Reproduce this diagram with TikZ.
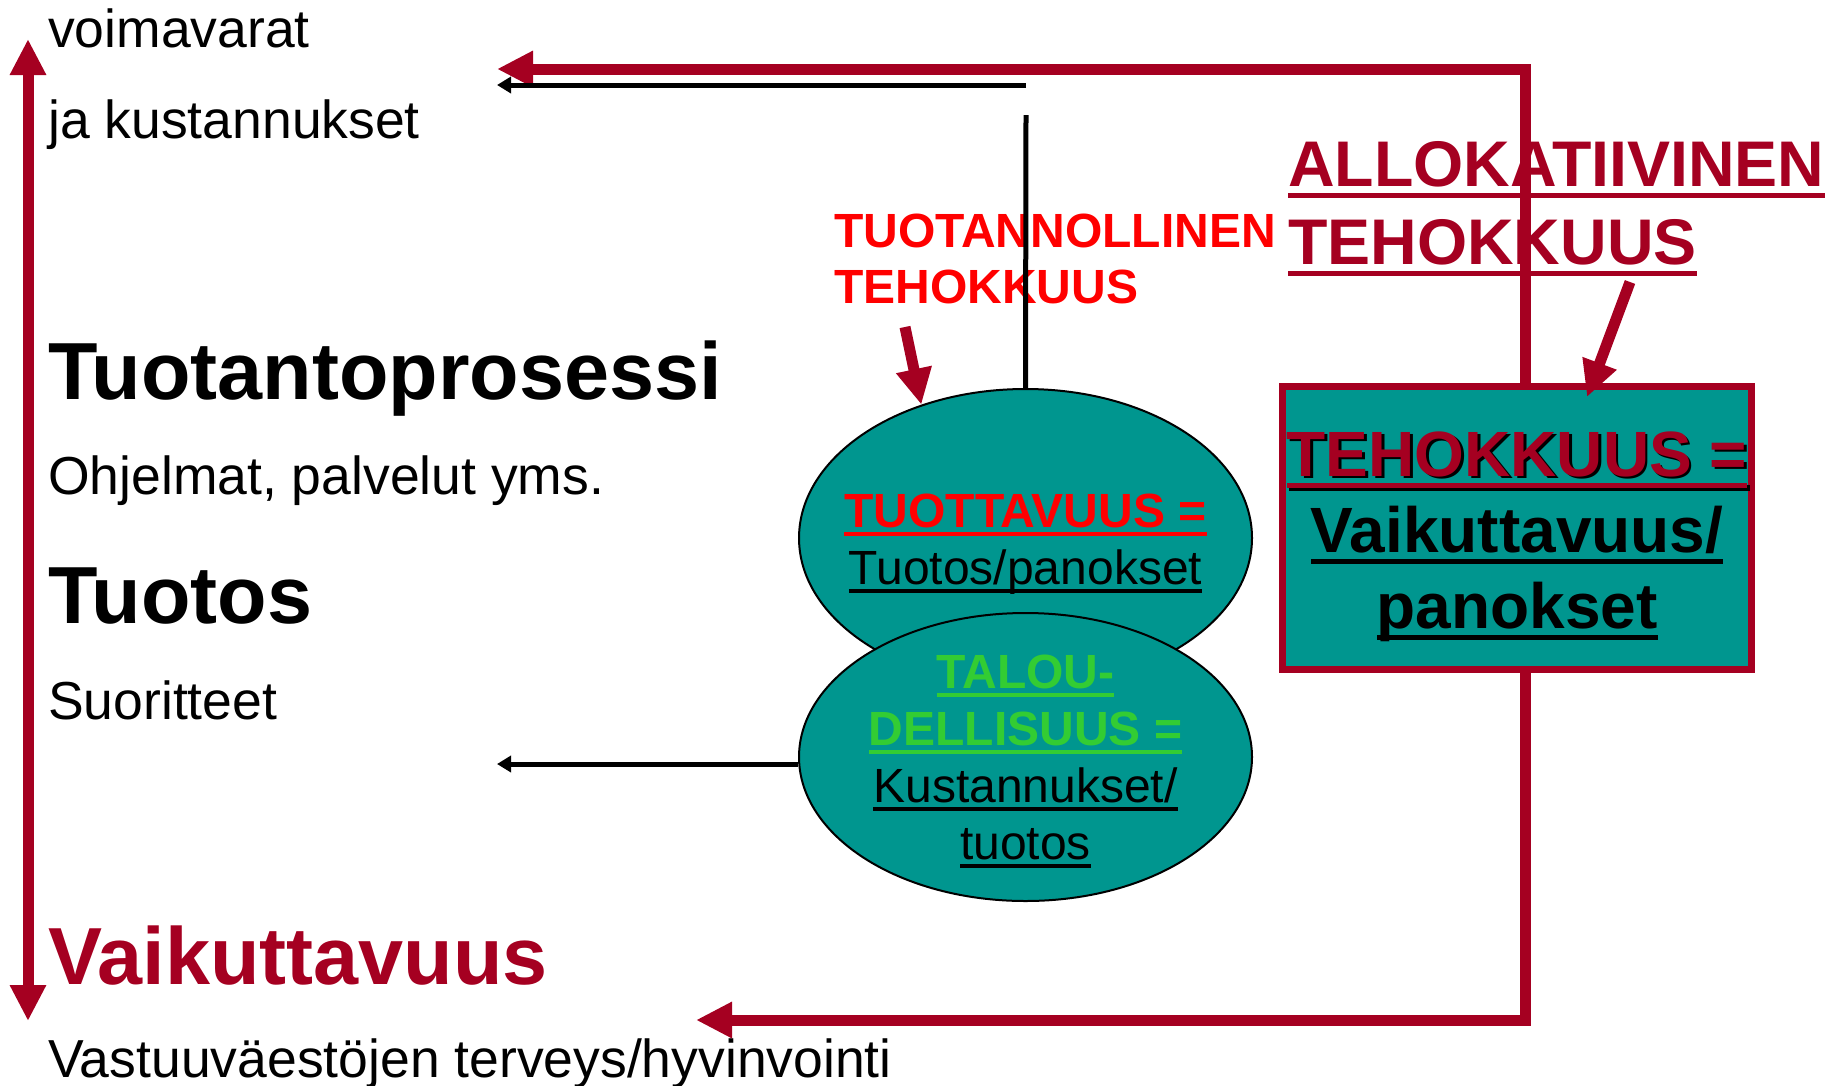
\documentclass[tikz,border=0pt]{standalone}
\usepackage{fontspec}
\setmainfont{Liberation Sans}
\usepackage{tikz}
\usetikzlibrary{arrows.meta,shapes.geometric}
\definecolor{darkred}{HTML}{A50021}
\definecolor{tealfill}{HTML}{00968F}
\definecolor{brightgreen}{HTML}{33CC33}
\newsavebox{\undlbox}
\newcommand{\undl}[1]{\sbox{\undlbox}{#1}\rlap{\usebox{\undlbox}}\rule[-0.19em]{\wd\undlbox}{0.085em}}
\newcommand{\shadowed}[1]{\rlap{\kern2.5pt\raisebox{-2.5pt}{\color{black}#1}}#1}
\tikzset{
    plain-text/.style = {inner sep=0pt, anchor=base west, font=\fontsize{53.5}{60}\selectfont},
    big-text/.style = {inner sep=0pt, anchor=base west, font=\fontsize{81}{90}\selectfont\bfseries},
    oval/.style = {draw=black, line width=2pt, fill=tealfill, ellipse, minimum width=453pt, minimum height=298pt, inner sep=0pt},
    oval-text/.style = {inner sep=0pt, anchor=base, align=center, font=\fontsize{48}{57}\selectfont},
    eff-box/.style = {draw=darkred, fill=tealfill, line width=7pt, rectangle, minimum width=469pt, minimum height=283pt, inner sep=0pt},
    eff-text/.style = {inner sep=0pt, anchor=base, align=center, font=\fontsize{64}{76}\selectfont\bfseries},
    tuot-label/.style = {inner sep=0pt, anchor=base west, align=left, text=red, font=\fontsize{48}{56}\selectfont\bfseries},
    allok-label/.style = {inner sep=0pt, anchor=base west, align=left, text=darkred, font=\fontsize{64.5}{78}\selectfont\bfseries},
    red-line/.style = {draw=darkred, line width=11pt},
    black-line/.style = {draw=black, line width=5pt},
    black-arrow/.style = {black-line, -{Triangle[length=14pt,width=16pt]}},
}

\begin{document}
\begin{tikzpicture}[x=1pt, y=-1pt, >={Triangle[length=36pt,width=34pt]}]
\useasboundingbox (0,0) rectangle (1833,1085);

% left column
\node[plain-text] (voima) at (48,47) {voimavarat};
\node[plain-text] (kust) at (48,138) {ja kustannukset};
\node[big-text] (prosessi) at (48,399) {Tuotantoprosessi};
\node[plain-text] (ohjelmat) at (48,494) {Ohjelmat, palvelut yms.};
\node[big-text] (tuotos) at (48,623) {Tuotos};
\node[plain-text] (suorit) at (48,719) {Suoritteet};
\node[big-text, text=darkred] (vaikut) at (48,984) {Vaikuttavuus};
\node[plain-text] (vastuu) at (48,1077) {Vastuuväestöjen terveys/hyvinvointi};

\coordinate (res-top) at (28,39);
\coordinate (res-bot) at (28,1021);
\coordinate (loop-top) at (1525,69);
\coordinate (loop-bot) at (1525,1020);
\coordinate (top-tip) at (497,69);
\coordinate (bot-tip) at (696,1020);
\coordinate (cost-from) at (1026,85);
\coordinate (cost-tip) at (497,85);
\coordinate (cost-gap) at (1026,115);
\coordinate (tuot-from) at (905,327);
\coordinate (allok-from) at (1630,282);

% efficiency box and its loop
\draw[red-line, <->] (res-top) -- (res-bot);
\node[eff-box] (teho) at (1517,528) {};
\draw[red-line, ->] (teho.north -| loop-top) -- (loop-top) -- (top-tip);
\draw[red-line, ->] (teho.south -| loop-bot) -- (loop-bot) -- (bot-tip);
\node[eff-text] (teho-text) at (1517,628) {{\color{darkred}\shadowed{\undl{TEHOKKUUS =}}}\\\undl{Vaikuttavuus/}\\\undl{panokset}};

\node[tuot-label] (tuot-lab) at (834,303) {TUOTANNOLLINEN\\TEHOKKUUS};
\node[allok-label] (allok-lab) at (1288,264) {\undl{ALLOKATIIVINEN}\\\undl{TEHOKKUUS}};

% the two ovals
\node[oval] (prod) at (1025.5,538) {};
\node[oval-text] (prod-text) at (1025.5,584) {{\color{red}\bfseries\undl{TUOTTAVUUS =}}\\\undl{Tuotos/panokset}};
\node[oval, minimum height=288pt] (talous) at (1025.5,757) {};
\node[oval-text] (talous-text) at (1025.5,859) {{\color{brightgreen}\bfseries\undl{TALOU-}}\\{\color{brightgreen}\bfseries\undl{DELLISUUS =}}\\\undl{Kustannukset/}\\\undl{tuotos}};

\draw[black-line] (prod.north) -- (cost-gap);
\draw[black-arrow] (cost-from) -- (cost-tip);
\draw[black-arrow] ([yshift=-7pt]talous.west) -- ([yshift=-7pt]talous.west -| cost-tip);

\draw[red-line, ->] (tuot-from) -- (prod.128);
\draw[red-line, ->] (allok-from) -- ([xshift=70pt,yshift=-14pt]teho.north);
\end{tikzpicture}
\end{document}
